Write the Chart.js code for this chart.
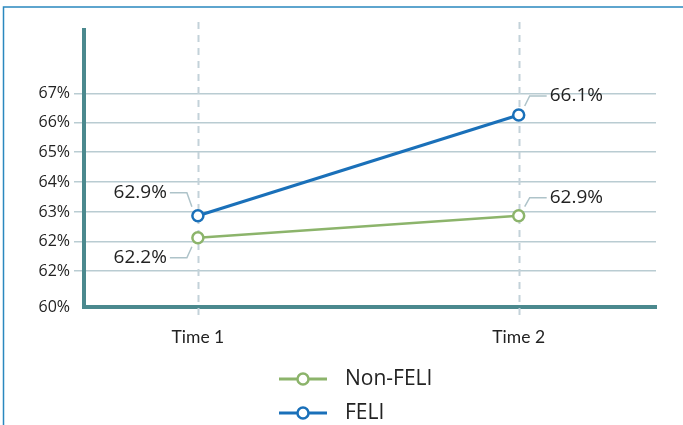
<!DOCTYPE html>
<html>
<head>
<meta charset="utf-8">
<script src="https://cdn.jsdelivr.net/npm/chart.js@4/dist/chart.umd.min.js"></script>
<style>
  html, body { margin: 0; padding: 0; background: #fff; }
  #wrap { width: 683px; height: 425px; position: relative; }
</style>
</head>
<body>
<div id="wrap"><canvas id="chart"></canvas></div>
<script>
// Survey periods and their positions on the x scale
const categories = ['Time 1', 'Time 2'];
const categoryPositions = [1, 2];

// Series values (percent)
const seriesNames = ['Non-FELI', 'FELI'];
const nonFeliValues = [62.2, 62.9];
const feliValues = [62.9, 66.1];

// Y axis gridline values and their printed labels
const yTickValues = [60, 61.14, 62.08, 63.02, 63.97, 64.92, 65.85, 66.79];
const yTickLabels = ['60%', '62%', '62%', '63%', '64%', '65%', '66%', '67%'];

const GREEN = '#8cb46b';
const BLUE = '#1a70b9';
const AXIS = '#4b898e';
const GRID = '#b9ccd2';
const LEADER = '#aec3c9';
const TEXT = '#222222';

// Placement of each value label: horizontal side and vertical rise of the leader
const labelSides = {
  'Non-FELI': [{ dx: -1, rise: 20 }, { dx: 1, rise: -18 }],
  'FELI': [{ dx: -1, rise: -23 }, { dx: 1, rise: -19 }]
};

const toPoints = vals => vals.map((v, i) => ({ x: categoryPositions[i], y: v }));

// Outer frame lines
const framePlugin = {
  id: 'frame',
  beforeDraw(chart) {
    const ctx = chart.ctx;
    ctx.save();
    ctx.strokeStyle = '#2a88bf';
    ctx.lineWidth = 1.5;
    ctx.beginPath();
    ctx.moveTo(3.5, 425);
    ctx.lineTo(3.5, 7);
    ctx.lineTo(683, 7);
    ctx.stroke();
    ctx.restore();
  }
};

// Dashed vertical guides at each period
const guidePlugin = {
  id: 'guides',
  beforeDatasetsDraw(chart) {
    const { ctx, chartArea, scales: { x } } = chart;
    ctx.save();
    ctx.strokeStyle = '#c3d2d9';
    ctx.lineWidth = 2;
    ctx.setLineDash([7, 6]);
    categoryPositions.forEach(p => {
      const px = Math.round(x.getPixelForValue(p)) + 0.5;
      ctx.beginPath();
      ctx.moveTo(px, chartArea.top - 8);
      ctx.lineTo(px, chartArea.bottom + 11);
      ctx.stroke();
    });
    ctx.restore();
  }
};

// Value labels with leader lines
const valueLabelPlugin = {
  id: 'valueLabels',
  afterDatasetsDraw(chart) {
    const ctx = chart.ctx;
    ctx.save();
    ctx.font = '19px "Open Sans"';
    ctx.fillStyle = TEXT;
    ctx.textBaseline = 'middle';
    chart.data.datasets.forEach((ds, di) => {
      const meta = chart.getDatasetMeta(di);
      meta.data.forEach((pt, i) => {
        const side = labelSides[ds.label][i];
        const dy = Math.sign(side.rise);
        const px = pt.x, py = pt.y;
        const sx = px + side.dx * 6, sy = py + dy * 9;
        const bx = px + side.dx * 11, by = py + side.rise;
        const ex = px + side.dx * 28;
        ctx.strokeStyle = LEADER;
        ctx.lineWidth = 1.5;
        ctx.beginPath();
        ctx.moveTo(sx, sy);
        ctx.lineTo(bx, by);
        ctx.lineTo(ex, by);
        ctx.stroke();
        ctx.textAlign = side.dx < 0 ? 'right' : 'left';
        ctx.fillText(ds.data[i].y.toFixed(1) + '%', px + side.dx * 31, by);
      });
    });
    ctx.restore();
  }
};

// Legend stacked in a column below the axis
const legendPlugin = {
  id: 'stackedLegend',
  afterDraw(chart) {
    const ctx = chart.ctx;
    ctx.save();
    ctx.font = '21px "Open Sans"';
    ctx.textBaseline = 'middle';
    ctx.textAlign = 'left';
    const rows = [379, 413];
    seriesNames.forEach((name, r) => {
      const ds = chart.data.datasets.find(d => d.label === name);
      const y = rows[r];
      ctx.strokeStyle = ds.borderColor;
      ctx.lineWidth = 3;
      ctx.beginPath();
      ctx.moveTo(279, y);
      ctx.lineTo(327, y);
      ctx.stroke();
      ctx.beginPath();
      ctx.arc(303, y, 5.5, 0, Math.PI * 2);
      ctx.fillStyle = '#fff';
      ctx.fill();
      ctx.lineWidth = 2.5;
      ctx.stroke();
      ctx.fillStyle = TEXT;
      ctx.fillText(name, 345, y);
    });
    ctx.restore();
  }
};

new Chart(document.getElementById('chart'), {
  type: 'line',
  data: {
    datasets: [
      {
        label: 'FELI',
        data: toPoints(feliValues),
        borderColor: BLUE,
        backgroundColor: '#fff',
        borderWidth: 3,
        pointRadius: 5.5,
        pointBorderWidth: 2.5,
        pointBackgroundColor: '#fff',
        pointBorderColor: BLUE
      },
      {
        label: 'Non-FELI',
        data: toPoints(nonFeliValues),
        borderColor: GREEN,
        backgroundColor: '#fff',
        borderWidth: 2.5,
        pointRadius: 5.5,
        pointBorderWidth: 2.5,
        pointBackgroundColor: '#fff',
        pointBorderColor: GREEN
      }
    ]
  },
  options: {
    responsive: true,
    maintainAspectRatio: false,
    animation: false,
    devicePixelRatio: 1,
    layout: { padding: { top: 30, right: 27, left: 0, bottom: 78 } },
    plugins: { legend: { display: false }, tooltip: { enabled: false } },
    scales: {
      x: {
        type: 'linear',
        min: 0.645,
        max: 2.428,
        afterBuildTicks: s => { s.ticks = categoryPositions.map(v => ({ value: v })); },
        afterFit: s => { s.height = 40; },
        ticks: {
          autoSkip: false,
          maxRotation: 0,
          padding: 20,
          color: TEXT,
          font: { family: 'Lato', size: 17.5 },
          callback: v => categories[categoryPositions.indexOf(v)]
        },
        grid: { display: false, drawTicks: false },
        border: { display: true, color: AXIS, width: 4 }
      },
      y: {
        min: 60,
        max: 68.8,
        afterBuildTicks: s => { s.ticks = yTickValues.map(v => ({ value: v })); },
        afterFit: s => { s.width = 84; },
        ticks: {
          autoSkip: false,
          padding: 4,
          color: TEXT,
          font: { family: 'Open Sans', size: 16 },
          callback: (v, i) => yTickLabels[i]
        },
        grid: {
          color: c => (c.index === 0 ? 'rgba(0,0,0,0)' : GRID),
          lineWidth: 1.5,
          tickLength: 10
        },
        border: { display: true, color: AXIS, width: 4 }
      }
    }
  },
  plugins: [framePlugin, guidePlugin, valueLabelPlugin, legendPlugin]
});
</script>
</body>
</html>
